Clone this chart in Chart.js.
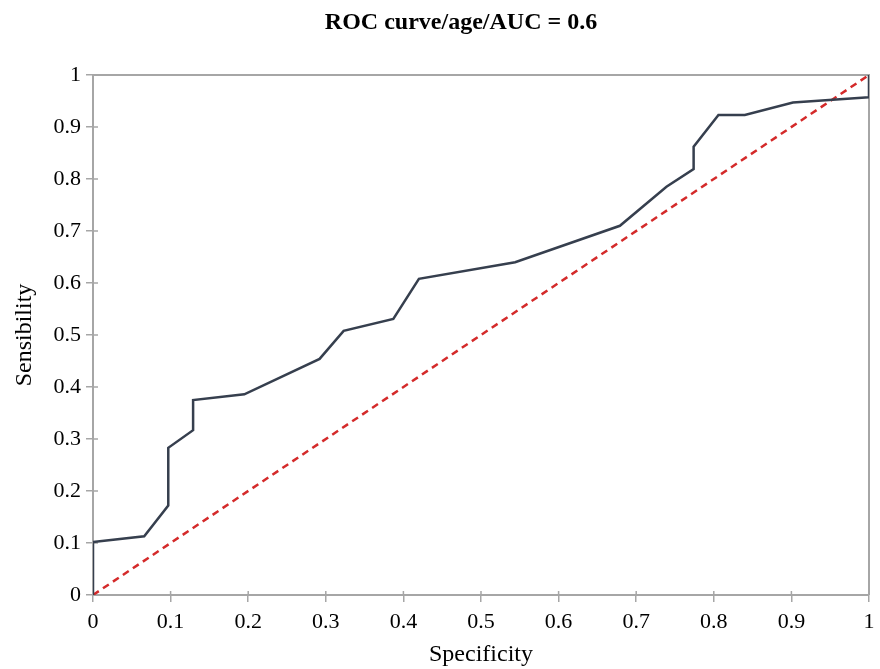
<!DOCTYPE html>
<html>
<head>
<meta charset="utf-8">
<script src="https://cdn.jsdelivr.net/npm/chart.js@4"></script>
<style>
  body { margin: 0; background: #fff; }
  canvas { display: block; }
</style>
</head>
<body>
<canvas id="roc" width="880" height="669"></canvas>
<script>
// points
let specificity = [0, 0, 0.066, 0.097, 0.097, 0.129, 0.129, 0.195, 0.292, 0.323, 0.387, 0.420, 0.544, 0.679, 0.739, 0.774, 0.774, 0.806, 0.840, 0.902, 1, 1];
let sensibility = [0, 0.102, 0.113, 0.172, 0.283, 0.317, 0.375, 0.386, 0.454, 0.508, 0.531, 0.608, 0.640, 0.710, 0.785, 0.819, 0.862, 0.923, 0.923, 0.947, 0.957, 1];

let ref_x = [0, 1];
let ref_y = [0, 1];

let tick_values = [0, 0.1, 0.2, 0.3, 0.4, 0.5, 0.6, 0.7, 0.8, 0.9, 1];

const FONT = "'Liberation Serif', 'Times New Roman', serif";
const AXIS_GREY = '#a6a6a6';

function to_points(xs, ys) {
    let pts = [];
    for (let i = 0; i < xs.length; i++) {
        pts.push({x: xs[i], y: ys[i]});
    }
    return pts;
}

// frame on top/right + inner part of tick marks
const framePlugin = {
    id: 'frame',
    afterLayout(chart) {
        // title sits a bit right of the canvas centre in the original
        if (chart.titleBlock) {
            chart.titleBlock.left = 53;
        }
    },
    beforeDatasetsDraw(chart) {
        let ctx = chart.ctx;
        let a = chart.chartArea;
        ctx.save();
        ctx.strokeStyle = AXIS_GREY;
        ctx.lineWidth = 2;
        ctx.beginPath();
        ctx.moveTo(a.left, a.top);
        ctx.lineTo(a.right, a.top);
        ctx.lineTo(a.right, a.bottom);
        ctx.stroke();

        ctx.lineWidth = 1.5;
        ctx.beginPath();
        for (let v of tick_values) {
            let px = chart.scales.x.getPixelForValue(v);
            ctx.moveTo(px, a.bottom);
            ctx.lineTo(px, a.bottom - 4);
            let py = chart.scales.y.getPixelForValue(v);
            ctx.moveTo(a.left, py);
            ctx.lineTo(a.left + 5, py);
        }
        ctx.stroke();
        ctx.restore();
    }
};

let ctx = document.getElementById("roc").getContext("2d");

let chart = new Chart(ctx, {
    type: 'line',
    data: {
        datasets: [{
            label: "ROC",
            data: to_points(specificity, sensibility),
            borderColor: '#363f4e',
            borderWidth: 2.5,
            pointRadius: 0,
            tension: 0,
            fill: false
        }, {
            label: "Reference",
            data: to_points(ref_x, ref_y),
            borderColor: '#d42a2a',
            borderWidth: 2.5,
            borderDash: [7, 5],
            pointRadius: 0,
            fill: false
        }]
    },
    options: {
        responsive: false,
        animation: false,
        layout: {
            padding: {left: 0, right: 11, top: 0, bottom: 0}
        },
        plugins: {
            legend: { display: false },
            tooltip: { enabled: false },
            title: {
                display: true,
                text: "ROC curve/age/AUC = 0.6",
                color: '#000',
                font: { family: FONT, size: 24, weight: 'bold', lineHeight: 1.2 },
                padding: { top: 8, bottom: 38.2 }
            }
        },
        scales: {
            x: {
                type: 'linear',
                min: 0,
                max: 1,
                afterBuildTicks(scale) {
                    scale.ticks = tick_values.map(v => ({value: v}));
                },
                afterFit(scale) {
                    scale.height = 74;
                    scale.paddingRight = 0;
                    scale.paddingLeft = 0;
                },
                ticks: {
                    color: '#000',
                    font: { family: FONT, size: 22 },
                    padding: 7,
                    maxRotation: 0,
                    callback: v => String(v)
                },
                grid: {
                    drawOnChartArea: false,
                    tickLength: 7,
                    color: AXIS_GREY,
                    lineWidth: 1.5
                },
                border: { color: AXIS_GREY, width: 2 },
                title: {
                    display: true,
                    text: "Specificity",
                    color: '#000',
                    font: { family: FONT, size: 24 },
                    padding: { top: 2, bottom: 0 }
                }
            },
            y: {
                type: 'linear',
                min: 0,
                max: 1,
                afterBuildTicks(scale) {
                    scale.ticks = tick_values.map(v => ({value: v}));
                },
                afterFit(scale) {
                    scale.width = 93;
                    scale.paddingTop = 0;
                    scale.paddingBottom = 0;
                },
                ticks: {
                    color: '#000',
                    font: { family: FONT, size: 22 },
                    padding: 5,
                    callback: v => String(v)
                },
                grid: {
                    drawOnChartArea: false,
                    tickLength: 7,
                    color: AXIS_GREY,
                    lineWidth: 1.5
                },
                border: { color: AXIS_GREY, width: 2 },
                title: {
                    display: true,
                    text: "Sensibility",
                    color: '#000',
                    font: { family: FONT, size: 24 },
                    padding: { top: 10, bottom: 4 }
                }
            }
        }
    },
    plugins: [framePlugin]
});
</script>
</body>
</html>
